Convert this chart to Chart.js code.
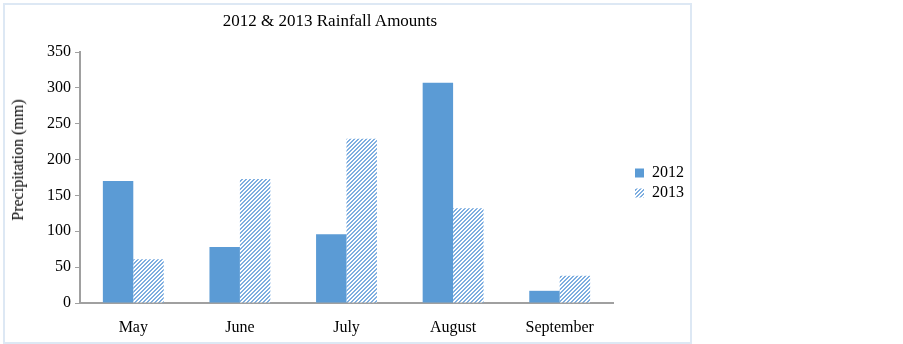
<!DOCTYPE html>
<html>
<head>
<meta charset="utf-8">
<script src="https://cdn.jsdelivr.net/npm/chart.js@4.4.1/dist/chart.umd.min.js"></script>
<style>
  body { margin: 0; background: #fff; }
  #frame {
    position: absolute; left: 3px; top: 3px; width: 689px; height: 341px;
    box-sizing: border-box; border: 2px solid #dde8f4;
  }
  #chart { position: absolute; left: 0; top: 0; }
  .txt { position: absolute; font-family: "Liberation Serif", "Times New Roman", serif; font-size: 16px; color: #000; white-space: nowrap; }
  #title { left: 330px; top: 21px; font-size: 17px; transform: translate(-50%, -50%); }
  #ytitle { left: 18px; top: 160px; transform: translate(-50%, -50%) rotate(-90deg); }
</style>
</head>
<body>
<div id="frame"></div>
<canvas id="chart" width="903" height="344"></canvas>
<div class="txt" id="title">2012 &amp; 2013 Rainfall Amounts</div>
<div class="txt" id="ytitle">Precipitation (mm)</div>
<script>
const months = ["May", "June", "July", "August", "September"];
const rain2012 = [170, 78, 96, 307, 17];
const rain2013 = [61, 173, 229, 132, 38];
const yTicks = [0, 50, 100, 150, 200, 250, 300, 350];

const fontFamily = '"Liberation Serif", "Times New Roman", serif';

function makeHatch(color) {
  const tile = document.createElement("canvas");
  tile.width = 4;
  tile.height = 4;
  const c = tile.getContext("2d");
  c.fillStyle = "#fff";
  c.fillRect(0, 0, 4, 4);
  c.fillStyle = color;
  for (let x = 0; x < 4; x++) {
    for (let y = 0; y < 4; y++) {
      if ((x + y) % 4 < 2) c.fillRect(x, y, 1, 1);
    }
  }
  return c.createPattern(tile, "repeat");
}

const ctx = document.getElementById("chart");
const hatch = makeHatch("#7eaee0");

const rainChart = new Chart(ctx, {
  type: "bar",
  data: {
    labels: months,
    datasets: [
      {
        label: "2012",
        data: rain2012,
        backgroundColor: "#5b9bd5",
        borderWidth: 0,
      },
      {
        label: "2013",
        data: rain2013,
        backgroundColor: hatch,
        borderWidth: 0,
      },
    ],
  },
  options: {
    responsive: false,
    animation: false,
    devicePixelRatio: 1,
    layout: {
      padding: { left: 0, right: 209, top: 52, bottom: 0 },
    },
    datasets: {
      bar: {
        categoryPercentage: 0.571,
        barPercentage: 1,
      },
    },
    scales: {
      x: {
        grid: { display: false },
        border: { display: true, color: "#a0a0a0", width: 2 },
        ticks: {
          color: "#000",
          padding: 7,
          font: { family: fontFamily, size: 16 },
        },
        afterFit: (scale) => {
          scale.height = 41;
        },
      },
      y: {
        min: 0,
        max: 350,
        afterBuildTicks: (scale) => {
          scale.ticks = yTicks.map((v) => ({ value: v }));
        },
        grid: {
          drawOnChartArea: false,
          drawTicks: true,
          tickLength: 5,
          color: "#a0a0a0",
          lineWidth: 1,
        },
        border: { display: true, color: "#a0a0a0", width: 2 },
        ticks: {
          color: "#000",
          padding: 4,
          font: { family: fontFamily, size: 16 },
        },
        afterFit: (scale) => {
          scale.width = 80;
        },
      },
      pad: {
        type: "linear",
        position: "right",
        grid: { display: false },
        border: { display: false },
        ticks: { display: false },
        afterFit: (scale) => {
          scale.width = 18;
        },
      },
    },
    plugins: {
      title: { display: false },
      tooltip: { enabled: false },
      legend: {
        position: "right",
        align: "start",
        title: {
          display: true,
          text: "",
          padding: { top: 0, bottom: 99 },
          font: { size: 10, lineHeight: 1 },
        },
        labels: {
          boxWidth: 9,
          boxHeight: 9,
          padding: 4,
          color: "#000",
          font: { family: fontFamily, size: 16 },
        },
      },
    },
  },
});
</script>
</body>
</html>
